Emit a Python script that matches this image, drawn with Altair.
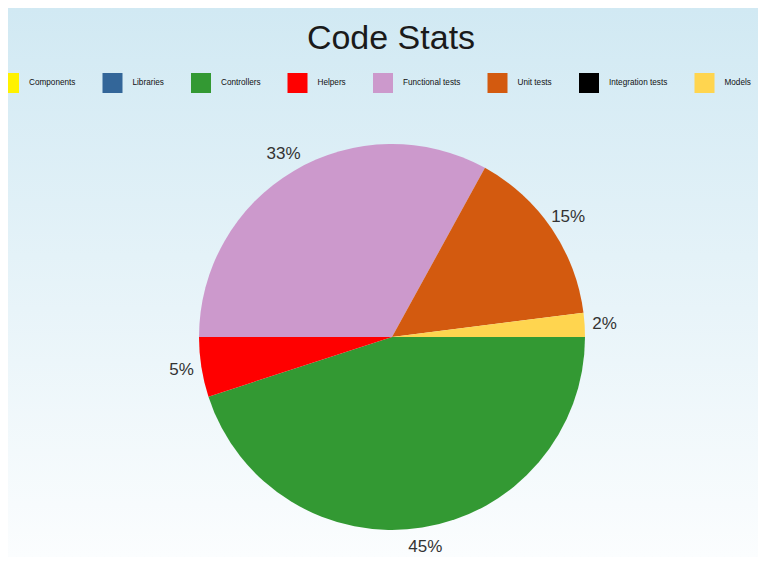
import math
import altair as alt
import pandas as pd

# ---- data ----
categories = ["Components", "Libraries", "Controllers", "Helpers",
              "Functional tests", "Unit tests", "Integration tests", "Models"]
percent = [0, 0, 45, 5, 33, 15, 0, 2]
colors = ["#FFF200", "#336699", "#339933", "#FF0000",
          "#CC99CC", "#D35A0F", "#000000", "#FFD54F"]

df = pd.DataFrame({
    "category": categories,
    "value": percent,
    "idx": list(range(len(categories))),
    "label": [f"{v}%" for v in percent],
})

W, H = 750, 549
CX, CY = 384, 329
R = 193
LABEL_R = 213

theta = alt.Theta("value:Q", stack=True,
                  scale=alt.Scale(range=[math.pi / 2, math.pi / 2 + 2 * math.pi]))
order = alt.Order("idx:Q", sort="ascending")

legend = alt.Legend(
    orient="none", legendX=-9, legendY=65, direction="horizontal", columns=8,
    title=None, symbolType="square", symbolSize=400, symbolStrokeWidth=0,
    symbolOpacity=1, labelFontSize=8.2, labelFont="Liberation Sans",
    labelColor="#111111", labelOffset=10, columnPadding=26.5, padding=0,
    labelLimit=300,
)
color = alt.Color("category:N",
                  scale=alt.Scale(domain=categories, range=colors),
                  legend=legend)

gradient = alt.LinearGradient(
    gradient="linear",
    stops=[alt.GradientStop(color="#d1e9f3", offset=0),
           alt.GradientStop(color="#fbfdfe", offset=1)],
    x1=0, x2=0, y1=0, y2=1,
)

base = alt.Chart(df)

bg = alt.Chart(pd.DataFrame({"k": [0]})).mark_rect(fill=gradient, strokeWidth=0).encode(
    x=alt.value(0), x2=alt.value(W), y=alt.value(0), y2=alt.value(H),
)

pie = base.mark_arc(radius=R).encode(
    theta=theta, color=color, order=order,
    x=alt.value(CX), y=alt.value(CY),
)

labels = base.transform_filter("datum.value > 0").mark_text(
    radius=LABEL_R, fontSize=17, font="Liberation Sans", color="#333333",
    align="center", baseline="middle",
).encode(
    theta=theta, text="label:N", order=order,
    x=alt.value(CX), y=alt.value(CY),
)

chart = alt.layer(bg, pie, labels).properties(
    width=W, height=H, padding=0,
    autosize=alt.AutoSizeParams(type="none"),
    title=alt.Title("Code Stats", fontSize=34, font="Liberation Sans",
                    fontWeight="normal", color="#1a1a1a", anchor="middle",
                    baseline="alphabetic", offset=-75, dx=8),
).configure_view(stroke="transparent", strokeWidth=0)

chart.save("out.html", embed_options={"renderer": "svg", "actions": False})
